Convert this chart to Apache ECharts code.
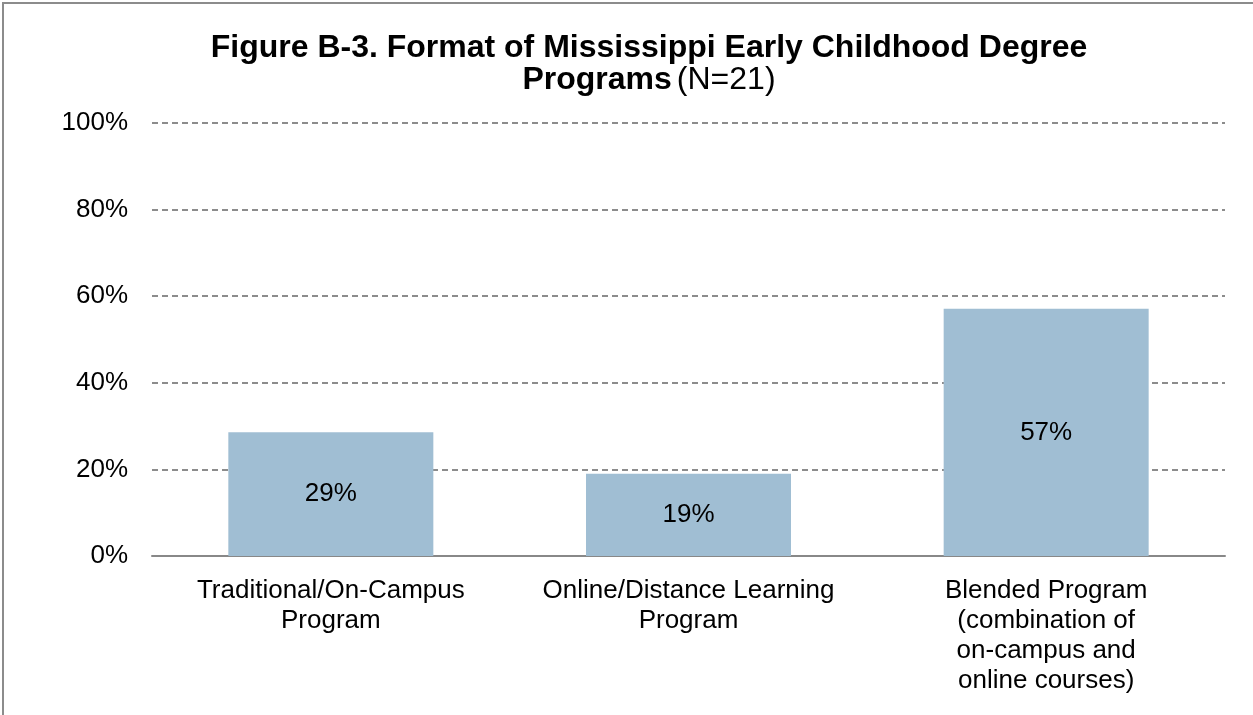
<!DOCTYPE html>
<html>
<head>
<meta charset="utf-8">
<script src="https://cdn.jsdelivr.net/npm/echarts@6/dist/echarts.min.js"></script>
<style>
html,body{margin:0;padding:0;background:#fff;}
#frame{position:absolute;left:2px;top:2px;width:1260px;height:720px;border-left:2px solid #8c8c8c;border-top:2px solid #8c8c8c;box-sizing:border-box;}
#chart{position:absolute;left:0;top:0;width:1253px;height:715px;}
</style>
</head>
<body>
<div id="frame"></div>
<div id="chart"></div>
<script>
const categories = [
  'Traditional/On-Campus\nProgram',
  'Online/Distance Learning\nProgram',
  'Blended Program\n(combination of\non-campus and\nonline courses)'
];
const values = [28.6, 19.0, 57.1];
const yTicks = [0, 20, 40, 60, 80, 100];

const FONT = 'Liberation Sans, Arial, sans-serif';
const chart = echarts.init(document.getElementById('chart'));
chart.setOption({
  animation: false,
  textStyle: { fontFamily: FONT },
  title: {
    text: '{b|Figure B-3. Format of Mississippi Early Childhood Degree}\n{b|Programs} {n|(N=21)}',
    left: 644,
    top: 27,
    textAlign: 'center',
    textStyle: {
      rich: {
        b: { fontSize: 32, fontWeight: 'bold', color: '#000', fontFamily: FONT, lineHeight: 32 },
        n: { fontSize: 32, fontWeight: 'normal', color: '#000', fontFamily: FONT, lineHeight: 32 }
      }
    }
  },
  grid: { left: 152, right: 28, top: 123, bottom: 159, containLabel: false },
  xAxis: {
    type: 'category',
    data: categories,
    axisLine: { show: true, lineStyle: { color: '#888', width: 2 } },
    axisTick: { show: false },
    axisLabel: { color: '#000', fontSize: 26, lineHeight: 30, margin: 20, interval: 0 }
  },
  yAxis: {
    type: 'value',
    min: yTicks[0],
    max: yTicks[yTicks.length - 1],
    interval: 20,
    axisLine: { show: false },
    axisTick: { show: false },
    axisLabel: { color: '#000', fontSize: 26, margin: 24, formatter: v => v + '%' },
    splitLine: { show: true, lineStyle: { color: '#8c8c8c', type: [6, 4], width: 2 } }
  },
  series: [{
    type: 'bar',
    data: values,
    barWidth: 205,
    itemStyle: { color: '#a0bed3' },
    label: {
      show: true,
      position: 'inside',
      color: '#000',
      fontSize: 26,
      formatter: p => Math.round(p.value) + '%'
    }
  }]
});
</script>
</body>
</html>
